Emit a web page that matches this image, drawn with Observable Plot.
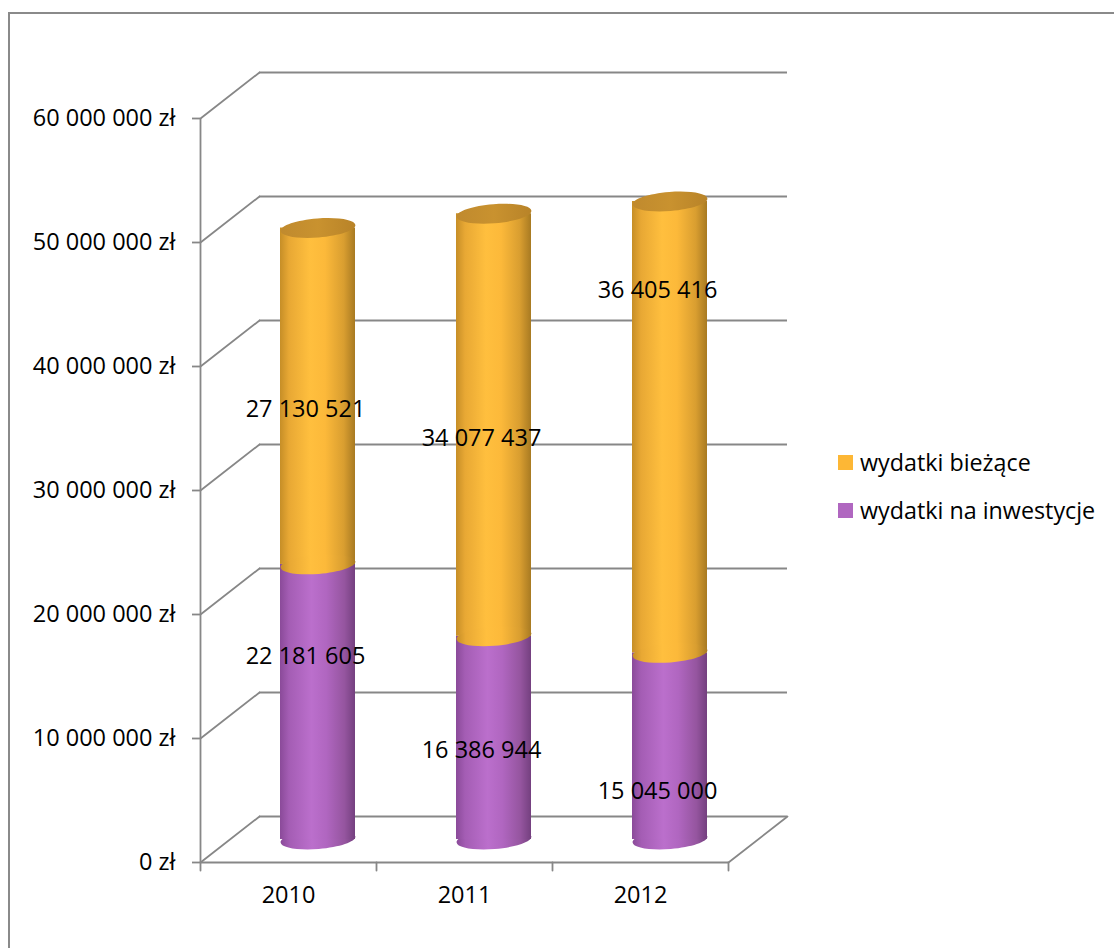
<!DOCTYPE html>
<html>
<head>
<meta charset="utf-8">
<script src="https://cdn.jsdelivr.net/npm/d3@7"></script>
<script src="https://cdn.jsdelivr.net/npm/@observablehq/plot@0.6"></script>
<style>
  html, body { margin: 0; padding: 0; background: #fff; overflow: hidden; }
  #page { position: relative; width: 1114px; height: 948px; overflow: hidden; font-family: "Open Sans", sans-serif; }
  #frame { position: absolute; left: 8px; top: 12px; width: 1200px; height: 1100px; border: 2px solid #8a8a8a; box-sizing: border-box; }
  #chart { position: absolute; left: 0; top: 0; }
  #chart svg { overflow: visible; }
  #legend { position: absolute; left: 838px; top: 447px; font-size: 23.3px; color: #000; }
  .row { display: flex; align-items: center; height: 30px; margin-bottom: 18px; white-space: nowrap; }
  .sw { width: 15px; height: 15px; margin-right: 7px; flex: none; }
</style>
</head>
<body>
<div id="page">
  <div id="frame"></div>
  <div id="chart"></div>
  <div id="legend"></div>
</div>
<script>
// ---- data ----
const years = ["2010", "2011", "2012"];
const seriesNames = ["wydatki na inwestycje", "wydatki bieżące"];
const inwestycje = [22181605, 16386944, 15045000];
const biezace = [27130521, 34077437, 36405416];
const yTicks = [0, 10000000, 20000000, 30000000, 40000000, 50000000, 60000000];

// ---- layout / style ----
const colors = { "wydatki bieżące": "#fdb735", "wydatki na inwestycje": "#b067c0" };
const depthX = 59, depthY = -46;            // 3-D depth offset of the back wall (px)
const barDx = depthX / 2, barDy = depthY / 2; // cylinders sit half way in depth
const bandW = 176;
const rx = 37.5, ry = 9.5, tilt = -4.5 * Math.PI / 180;
const labelDx = 17, labelDy = -10;
// manual nudges of individual data labels (px), keyed by "year|series"
const labelNudge = { "2010|wydatki na inwestycje": -59, "2012|wydatki bieżące": -150, "2012|wydatki na inwestycje": 32 };
const gridColor = "#878787";
const font = 23.5;

// ---- table (stacked) ----
const rows = [];
years.forEach((year, i) => {
  const vals = [inwestycje[i], biezace[i]];
  let base = 0;
  seriesNames.forEach((s, j) => {
    rows.push({ year, series: s, value: vals[j], y1: base, y2: base + vals[j] });
    base += vals[j];
  });
});
const inwRows = rows.filter(d => d.series === seriesNames[0]);
const bieRows = rows.filter(d => d.series === seriesNames[1]);

const fmt = v => d3.format(",")(v).replace(/,/g, " ");

// ellipse symbol (tilted) drawn with bezier curves
const ellipse = {
  draw(ctx) {
    const k = 0.5522847498;
    const u = [Math.cos(tilt), Math.sin(tilt)], v = [-Math.sin(tilt), Math.cos(tilt)];
    const P = (a, b) => [a * u[0] + b * v[0], a * u[1] + b * v[1]];
    const pts = [[rx, 0], [0, ry], [-rx, 0], [0, -ry]];
    const tangents = [[0, ry], [-rx, 0], [0, -ry], [rx, 0]];
    let p0 = P(...pts[0]);
    ctx.moveTo(p0[0], p0[1]);
    for (let q = 0; q < 4; q++) {
      const a = pts[q], b = pts[(q + 1) % 4];
      const ta = tangents[q], tb = tangents[(q + 1) % 4];
      const c1 = P(a[0] + k * ta[0], a[1] + k * ta[1]);
      const c2 = P(b[0] - k * tb[0], b[1] - k * tb[1]);
      const e = P(b[0], b[1]);
      ctx.bezierCurveTo(c1[0], c1[1], c2[0], c2[1], e[0], e[1]);
    }
    ctx.closePath();
  }
};
const line = { draw(ctx, l) { ctx.moveTo(0, 0); ctx.lineTo(0, -l); } };
const diagLen = Math.hypot(depthX, depthY);
const diagRot = Math.atan2(depthX, -depthY) * 180 / Math.PI;

const marks = [
  // back wall gridlines
  Plot.ruleY(yTicks, { y: d => d, dx: depthX, dy: depthY, stroke: gridColor, strokeWidth: 1.8 }),
  // left side diagonals
  Plot.vector(yTicks, { y: d => d, frameAnchor: "left", length: diagLen, rotate: diagRot, anchor: "start", shape: line, stroke: gridColor, strokeWidth: 1.8 }),
  // floor right diagonal
  Plot.vector([yTicks[0]], { y: d => d, frameAnchor: "right", length: diagLen, rotate: diagRot, anchor: "start", shape: line, stroke: gridColor, strokeWidth: 1.8 }),
  // front axis lines
  Plot.ruleY([yTicks[0]], { y: d => d, stroke: gridColor, strokeWidth: 1.8 }),
  Plot.ruleX([years[0]], { x: d => d, dx: -bandW / 2, y1: yTicks[0], y2: yTicks[yTicks.length - 1], stroke: gridColor, strokeWidth: 1.8 }),
  // x ticks at band edges
  Plot.vector(years, { x: d => d, frameAnchor: "bottom", dx: -bandW / 2, length: 8, rotate: 180, anchor: "start", shape: line, stroke: gridColor, strokeWidth: 1.8 }),
  Plot.vector([years[years.length - 1]], { x: d => d, frameAnchor: "bottom", dx: bandW / 2, length: 8, rotate: 180, anchor: "start", shape: line, stroke: gridColor, strokeWidth: 1.8 }),
  // axes
  Plot.axisY({ ticks: yTicks, tickFormat: d => fmt(d) + " zł", tickSize: 8, tickPadding: 17, fontSize: font, stroke: gridColor, strokeWidth: 1.8, fill: "#000", label: null }),
  Plot.axisX({ tickSize: 0, tickPadding: 24, fontSize: font, fill: "#000", label: null }),
  // cylinders: inwestycje
  Plot.dot(inwRows, { x: "year", y: "y1", symbol: ellipse, fill: "url(#gPurple)", stroke: "none", dx: barDx, dy: barDy }),
  Plot.barY(inwRows, { x: "year", y1: "y1", y2: "y2", fill: "url(#gPurple)", insetLeft: bandW / 2 - rx, insetRight: bandW / 2 - rx, dx: barDx, dy: barDy }),
  // cylinders: bieżące
  Plot.barY(bieRows, { x: "year", y1: "y1", y2: "y2", fill: "url(#gOrange)", insetLeft: bandW / 2 - rx, insetRight: bandW / 2 - rx, dx: barDx, dy: barDy }),
  Plot.dot(bieRows, { x: "year", y: "y1", symbol: ellipse, fill: "url(#gOrange)", stroke: "none", dx: barDx, dy: barDy }),
  Plot.dot(bieRows, { x: "year", y: "y2", symbol: ellipse, fill: "url(#gTop)", stroke: "none", dx: barDx, dy: barDy }),
];
// data labels
rows.forEach(d => {
  const nudge = labelNudge[d.year + "|" + d.series] || 0;
  marks.push(Plot.text([d], { x: "year", y: r => (r.y1 + r.y2) / 2, text: r => fmt(r.value), dx: labelDx, dy: labelDy + nudge, fontSize: font, fill: "#000" }));
});

const svg = Plot.plot({
  width: 1114,
  height: 948,
  marginLeft: 200,
  marginRight: 386,
  marginTop: 118,
  marginBottom: 86,
  x: { type: "band", domain: years, padding: 0 },
  y: { domain: [0, 60000000] },
  style: { fontFamily: "'Open Sans', sans-serif", background: "transparent", color: "#000" },
  marks
});

// gradients for the cylinder shading
const defs = d3.create("svg:defs");
function grad(id, stops) {
  const g = defs.append("linearGradient").attr("id", id).attr("x1", 0).attr("x2", 1).attr("y1", 0).attr("y2", 0);
  stops.forEach(([o, c]) => g.append("stop").attr("offset", o).attr("stop-color", c));
}
grad("gOrange", [[0, "#c68e27"], [0.12, "#e8a834"], [0.4, "#ffbf3e"], [0.6, "#fcb93a"], [0.85, "#d99e30"], [1, "#a87a22"]]);
grad("gPurple", [[0, "#8a4a99"], [0.12, "#a45db4"], [0.42, "#bb6fcc"], [0.62, "#b066c0"], [0.86, "#95559f"], [1, "#74407f"]]);
grad("gTop", [[0, "#c08a2e"], [0.5, "#c9922f"], [1, "#b88328"]]);
svg.insertBefore(defs.node(), svg.firstChild);

document.getElementById("chart").appendChild(svg);

// legend (HTML)
const legend = d3.select("#legend");
[seriesNames[1], seriesNames[0]].forEach(s => {
  const r = legend.append("div").attr("class", "row");
  r.append("div").attr("class", "sw").style("background", colors[s]);
  r.append("span").text(s);
});
</script>
</body>
</html>
